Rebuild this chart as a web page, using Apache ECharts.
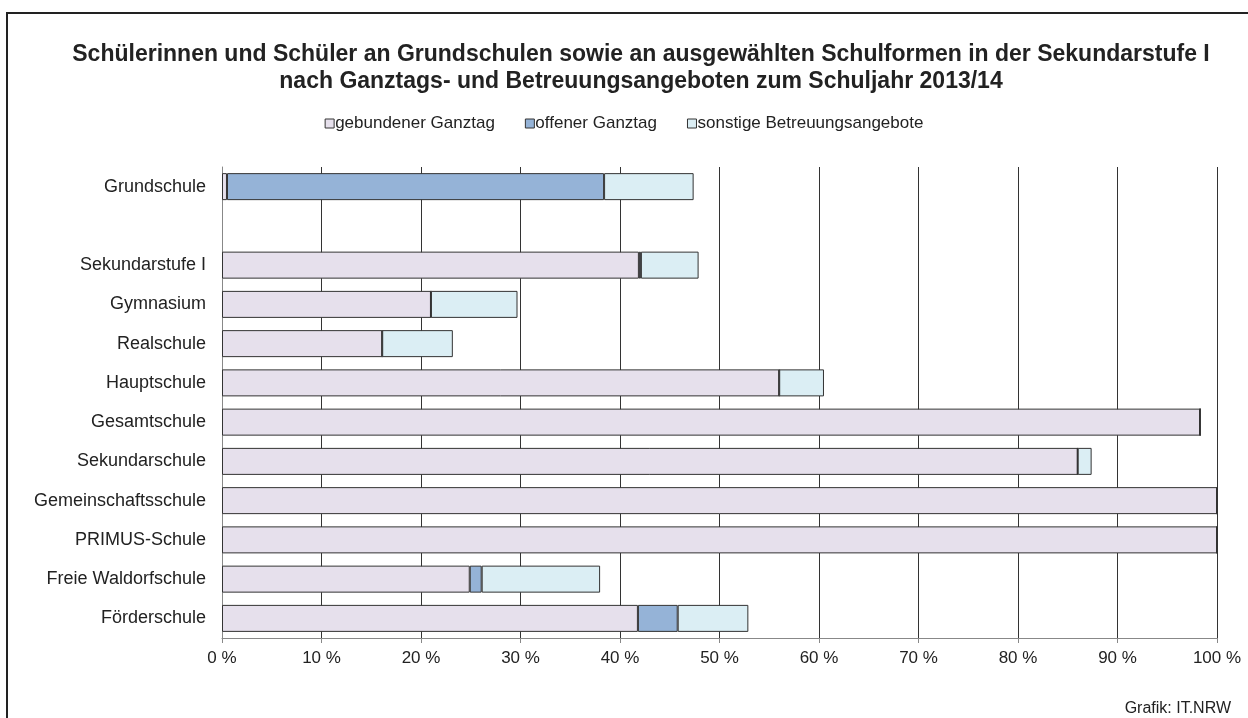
<!DOCTYPE html>
<html>
<head>
<meta charset="utf-8">
<script src="https://cdn.jsdelivr.net/npm/echarts@6/dist/echarts.min.js"></script>
<style>
html, body { margin: 0; padding: 0; background: #fff; }
#chart { width: 1248px; height: 718px; }
#frame {
    position: absolute; left: 6px; top: 12px; width: 1300px; height: 800px;
    border: 2px solid #222; box-sizing: border-box; pointer-events: none;
}
</style>
</head>
<body>
<div id="chart"></div>
<div id="frame"></div>
<script>
// Schularten (leerer Eintrag = Abstand nach Grundschule)
const schulformen = ['Grundschule', '', 'Sekundarstufe I', 'Gymnasium', 'Realschule', 'Hauptschule',
    'Gesamtschule', 'Sekundarschule', 'Gemeinschaftsschule', 'PRIMUS-Schule', 'Freie Waldorfschule', 'Förderschule']

// Anteile in %
const gebunden = [0.5, null, 41.9, 21.0, 16.1, 56.0, 98.3, 86.0, 100, 100, 24.9, 41.8]
const offen = [37.9, null, 0.2, 0, 0, 0, 0, 0, 0, 0, 1.2, 4.0]
const sonstige = [9.0, null, 5.8, 8.7, 7.1, 4.5, 0, 1.4, 0, 0, 11.9, 7.1]

const xTicks = [0, 10, 20, 30, 40, 50, 60, 70, 80, 90, 100]

const farben = {
    gebunden: '#e6e0ec',
    offen: '#95b3d7',
    sonstige: '#dbeef4'
}

const chart = echarts.init(document.getElementById('chart'))

function bar(name, data, color) {
    return {
        name: name,
        type: 'bar',
        stack: 'gesamt',
        data: data,
        barWidth: 27,
        itemStyle: { color: color, borderColor: '#333', borderWidth: 1 },
        emphasis: { disabled: true }
    }
}

const option = {
    animation: false,
    textStyle: { fontFamily: 'Liberation Sans, Arial, sans-serif' },
    title: [{
        text: 'Schülerinnen und Schüler an Grundschulen sowie an ausgewählten Schulformen in der Sekundarstufe I\nnach Ganztags- und Betreuungsangeboten zum Schuljahr 2013/14',
        left: 636,
        top: 36,
        textAlign: 'center',
        textStyle: { fontSize: 23, fontWeight: 'bold', color: '#222', lineHeight: 27 }
    }, {
        text: 'Grafik: IT.NRW',
        right: 12,
        top: 696,
        textStyle: { fontSize: 16, fontWeight: 'normal', color: '#222' }
    }],
    legend: {
        top: 110,
        left: 'center',
        itemWidth: 9,
        itemHeight: 9,
        itemGap: 30,
        icon: 'rect',
        textStyle: { fontSize: 17, color: '#222', padding: [0, 0, 0, -4] },
        itemStyle: { borderColor: '#333', borderWidth: 1 },
        data: ['gebundener Ganztag', 'offener Ganztag', 'sonstige Betreuungsangebote']
    },
    grid: { left: 222, right: 31, top: 167, bottom: 80 },
    xAxis: {
        type: 'value',
        min: 0,
        max: 100,
        interval: 10,
        axisLine: { show: true, lineStyle: { color: '#888' } },
        axisTick: { show: true, length: 5, lineStyle: { color: '#888' } },
        axisLabel: {
            fontSize: 17, color: '#222', margin: 12,
            formatter: v => xTicks.includes(v) ? v + ' %' : ''
        },
        splitLine: { show: true, lineStyle: { color: '#333', width: 1 } }
    },
    yAxis: {
        type: 'category',
        inverse: true,
        data: schulformen,
        axisLine: { show: true, lineStyle: { color: '#888' } },
        axisTick: { show: false },
        axisLabel: { fontSize: 18, color: '#222', margin: 16 }
    },
    series: [
        bar('gebundener Ganztag', gebunden, farben.gebunden),
        bar('offener Ganztag', offen, farben.offen),
        bar('sonstige Betreuungsangebote', sonstige, farben.sonstige)
    ]
}

chart.setOption(option)
</script>
</body>
</html>
